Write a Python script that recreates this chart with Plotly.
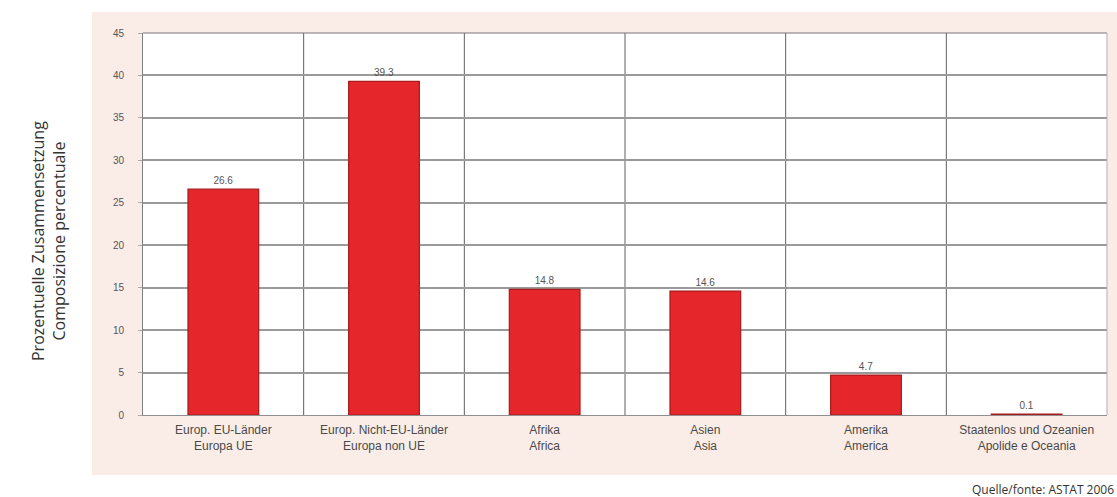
import plotly.graph_objects as go

categories = [
    "Europ. EU-Länder<br>Europa UE",
    "Europ. Nicht-EU-Länder<br>Europa non UE",
    "Afrika<br>Africa",
    "Asien<br>Asia",
    "Amerika<br>America",
    "Staatenlos und Ozeanien<br>Apolide e Oceania",
]
values = [26.6, 39.3, 14.8, 14.6, 4.7, 0.1]
value_labels = ["26.6", "39.3", "14.8", "14.6", "4.7", "0.1"]
y_ticks = [0, 5, 10, 15, 20, 25, 30, 35, 40, 45]

W, H = 1117, 497
L, R, T, B = 143, 10, 33, 82

xpos = list(range(len(categories)))

fig = go.Figure()
fig.add_trace(go.Bar(
    x=xpos, y=values, width=0.44,
    marker=dict(color="#e5262a", line=dict(color="#a81a1c", width=1.2)),
    text=value_labels, textposition="outside",
    textfont=dict(family="Liberation Sans, Arial", size=10, color="#555"),
    cliponaxis=False,
))

shapes = [
    dict(type="rect", xref="paper", yref="paper",
         x0=(92 - L) / (W - L - R), x1=(W - L) / (W - L - R),
         y0=-(475 - (H - B)) / (H - T - B), y1=1 + (T - 12) / (H - T - B),
         fillcolor="#faede8", line=dict(width=0), layer="below"),
    dict(type="rect", xref="paper", yref="paper", x0=0, x1=1, y0=0, y1=1,
         fillcolor="white", line=dict(width=0), layer="below"),
]
for i in range(1, len(categories)):
    shapes.append(dict(type="line", xref="x", yref="paper", x0=i - 0.5, x1=i - 0.5,
                       y0=0, y1=1, line=dict(color="#606060", width=1), layer="below"))
shapes.append(dict(type="line", xref="paper", yref="paper", x0=0, x1=1, y0=1, y1=1,
                   line=dict(color="#777777", width=1.2)))
shapes.append(dict(type="line", xref="paper", yref="paper", x0=1, x1=1, y0=0, y1=1,
                   line=dict(color="#b0b0b0", width=1)))

fig.update_layout(
    width=W, height=H,
    margin=dict(l=L, r=R, t=T, b=B),
    paper_bgcolor="white",
    plot_bgcolor="white",
    showlegend=False,
    shapes=shapes,
    xaxis=dict(
        tickmode="array", tickvals=xpos, ticktext=categories,
        range=[-0.5, len(categories) - 0.5],
        showgrid=False, zeroline=False,
        showline=True, linecolor="#909090", linewidth=1,
        tickfont=dict(family="Liberation Sans, Arial", size=12, color="#4a4a4a"),
        ticks="", ticklen=0, ticklabelstandoff=4,
    ),
    yaxis=dict(
        range=[0, 45], tickmode="array", tickvals=y_ticks,
        showgrid=True, gridcolor="#9a9a9a", gridwidth=1.5,
        zeroline=False, showline=True, linecolor="#808080", linewidth=1,
        ticks="outside", ticklen=4, tickcolor="#aaa",
        tickfont=dict(family="Liberation Sans, Arial", size=10, color="#555"),
        ticklabelstandoff=12,
    ),
    annotations=[
        dict(text="Prozentuelle Zusammensetzung<br>Composizione percentuale",
             xref="paper", yref="paper",
             x=-(L - 48) / (W - L - R), y=(H - B - 241) / (H - T - B),
             xanchor="center", yanchor="middle", textangle=-90, showarrow=False,
             font=dict(family="Open Sans", size=16, color="#333")),
        dict(text="Quelle/fonte: ASTAT 2006", xref="paper", yref="paper",
             x=1 + (R - 1) / (W - L - R), y=-(489 - (H - B)) / (H - T - B),
             xanchor="right", yanchor="middle", showarrow=False,
             font=dict(family="Open Sans", size=12, color="#333")),
    ],
)

fig.write_html("out.html", config={"displayModeBar": False},
               post_script="document.body.style.margin='0';document.body.style.overflow='hidden';")
